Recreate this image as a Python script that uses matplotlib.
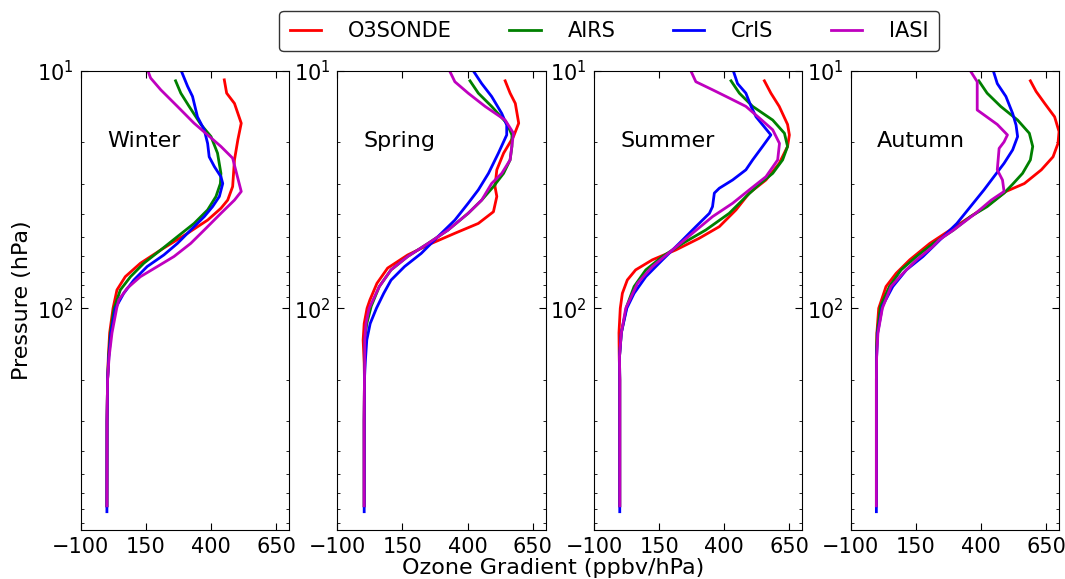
import matplotlib
matplotlib.use('Agg')
import matplotlib.pyplot as plt
import numpy as np

# perfiles de gradiente de ozono por estacion
seasons = ['Winter', 'Spring', 'Summer', 'Autumn']
sources = ['O3SONDE', 'AIRS', 'CrIS', 'IASI']
colors = ['r', 'g', 'b', 'm']

# ---- Winter
win_o3_p = [10.9, 12.4, 13.7, 16.6, 19.5, 23.7, 30.7, 35, 37.9, 42.5, 48.3, 56.8, 64.6, 73.6, 83.7, 100, 127, 160, 200, 300, 680]
win_o3_v = [451, 460, 490, 516, 503, 490, 483, 464, 438, 387, 310, 207, 129, 71, 39, 24, 11, 6, 3, 1, 0.5]
win_airs_p = [11.0, 12.4, 14.1, 16.8, 18.9, 22.2, 27.0, 29.8, 33.8, 38.5, 43.9, 49.9, 56.8, 64.6, 73.6, 83.7, 100, 127, 160, 200, 300, 680]
win_airs_v = [264, 284, 316, 361, 400, 425, 438, 436, 419, 387, 335, 271, 207, 142, 91, 52, 28, 14, 7, 3, 1, 0.5]
win_cris_p = [10, 11.6, 12.8, 15.6, 17.7, 20.2, 23.0, 25.3, 27.9, 29.8, 33.8, 37.3, 41.1, 45.3, 53.3, 59.6, 66.7, 76.0, 86.5, 100, 127, 160, 200, 300, 720]
win_cris_v = [286, 310, 329, 348, 374, 387, 393, 413, 438, 445, 432, 406, 374, 335, 271, 219, 155, 104, 65, 33, 16, 8, 3, 1, 0.5]
win_iasi_p = [10, 10.7, 12.0, 14.1, 16.6, 18.6, 20.8, 23.3, 32.2, 35, 39.8, 46.8, 53.3, 60.5, 66.7, 73.6, 82.4, 92.2, 100, 127, 160, 200, 300, 680]
win_iasi_v = [158, 168, 207, 271, 335, 387, 438, 483, 516, 490, 438, 374, 322, 258, 194, 129, 78, 46, 38, 20, 9, 3, 1, 0.5]

# ---- Spring
spr_o3_p = [11.0, 12.4, 13.7, 16.6, 18.9, 22.2, 26.1, 30.7, 33.8, 39.2, 43.9, 48.3, 53.3, 59.6, 67.7, 78.5, 92.2, 100, 116, 136, 170, 200, 300, 680]
spr_o3_v = [544, 563, 583, 596, 576, 538, 512, 505, 512, 499, 441, 351, 261, 170, 93, 52, 25, 14, 3, -1, 3, 4, 3, 3]
spr_airs_p = [11.0, 12.4, 14.1, 16.6, 18.6, 20.8, 23.7, 27.0, 30.7, 35.0, 39.8, 46.8, 53.3, 60.5, 68.9, 81.0, 98, 116, 136, 170, 200, 300, 680]
spr_airs_v = [409, 441, 492, 550, 570, 570, 563, 538, 499, 454, 402, 325, 248, 170, 106, 61, 30, 13, 5, 5, 4, 3, 3]
spr_cris_p = [10, 11.3, 12.8, 15.1, 16.9, 18.6, 22.2, 27.0, 31.7, 36.1, 42.5, 49.9, 58.7, 66.7, 76.1, 86.5, 100, 116, 136, 170, 200, 300, 720]
spr_cris_v = [422, 454, 492, 531, 550, 550, 518, 480, 441, 402, 351, 286, 222, 158, 106, 78, 50, 26, 13, 7, 4, 3, 3]
spr_iasi_p = [10, 11.1, 12.4, 14.1, 16.1, 18.3, 23.7, 27.0, 29.8, 35, 39.8, 46.8, 53.3, 60.5, 68.9, 81, 100, 116, 136, 170, 200, 300, 680]
spr_iasi_v = [331, 351, 402, 467, 544, 576, 563, 531, 492, 454, 402, 325, 248, 170, 106, 61, 22, 10, 5, 5, 4, 3, 3]

# ---- Summer
sum_o3_p = [11.0, 12.4, 14.1, 16.8, 18.6, 20.8, 24.5, 28.8, 32.7, 38.5, 45.3, 50.7, 56.8, 62.5, 68.9, 76, 86.5, 100, 127, 160, 200, 300, 680]
sum_o3_v = [554, 579, 611, 643, 650, 643, 611, 560, 496, 445, 381, 304, 214, 124, 60, 28, 9, 1, -4, -3, -1, -1, -1]
sum_airs_p = [11.0, 12.4, 14.1, 16.1, 18.3, 20.8, 23.7, 27.0, 30, 33.8, 39.8, 46.8, 53.3, 60.5, 68.9, 81, 98, 127, 160, 200, 300, 680]
sum_airs_v = [426, 458, 509, 586, 631, 643, 624, 586, 535, 484, 419, 329, 240, 163, 99, 54, 26, 5, -2, -1, -1, -1]
sum_cris_p = [10, 11.3, 12.4, 14.1, 15.6, 18.6, 20.8, 23.7, 26.1, 28.8, 31.2, 32.7, 37.3, 39.8, 45.3, 53.3, 62.5, 73.6, 86.5, 100, 127, 160, 200, 300, 720]
sum_cris_v = [435, 451, 483, 503, 522, 579, 547, 509, 483, 432, 381, 362, 355, 343, 291, 227, 163, 99, 54, 26, 5, -2, -1, -1, -1]
sum_iasi_p = [10, 11.1, 12.0, 13.0, 14.1, 16.0, 17.7, 20.2, 23.7, 27.9, 31.7, 36.1, 41.1, 48.3, 56.8, 66.7, 78.5, 100, 127, 160, 200, 300, 680]
sum_iasi_v = [272, 291, 355, 419, 483, 541, 586, 612, 605, 560, 496, 432, 355, 278, 201, 124, 67, 22, 5, -2, -1, -1, -1]

# ---- Autumn
aut_o3_p = [11.0, 12.2, 13.7, 15.6, 18.0, 20.2, 23.0, 26.1, 29.8, 32.2, 36.1, 41.1, 46.8, 53.3, 62.5, 71.2, 81, 100, 127, 160, 200, 300, 680]
aut_o3_v = [590, 612, 645, 683, 700, 696, 677, 632, 567, 496, 437, 360, 282, 204, 127, 75, 36, 8, 1, -1, -1, -1, -1]
aut_airs_p = [11.0, 12.4, 14.1, 16.1, 18.3, 20.8, 23.7, 27.0, 30, 32.7, 37.3, 41.1, 46.8, 53.3, 60.5, 68.9, 81, 98, 127, 160, 200, 300, 680]
aut_airs_v = [392, 424, 476, 541, 586, 599, 590, 560, 522, 489, 424, 360, 295, 217, 153, 94, 49, 15, 2, -1, -1, -1, -1]
aut_cris_p = [10, 11.3, 12.8, 15.1, 16.9, 18.9, 21.5, 24.5, 27.9, 31.7, 37.3, 43.9, 51.5, 60.5, 68.9, 81, 98, 127, 160, 200, 300, 720]
aut_cris_v = [448, 463, 496, 522, 535, 541, 522, 489, 450, 412, 360, 308, 243, 178, 114, 62, 22, 4, 0, -1, -1, -1]
aut_iasi_p = [10, 11.1, 14.6, 16.8, 18.6, 19.9, 21.2, 26.1, 28.8, 32.2, 35, 39.8, 46.8, 51.5, 55, 62.5, 71.2, 81, 100, 127, 160, 200, 300, 680]
aut_iasi_v = [360, 386, 386, 463, 502, 489, 470, 463, 483, 489, 440, 380, 295, 240, 215, 153, 101, 55, 22, 5, 0, -1, -1, -1]

perfiles = [
    [(win_o3_p, win_o3_v), (win_airs_p, win_airs_v), (win_cris_p, win_cris_v), (win_iasi_p, win_iasi_v)],
    [(spr_o3_p, spr_o3_v), (spr_airs_p, spr_airs_v), (spr_cris_p, spr_cris_v), (spr_iasi_p, spr_iasi_v)],
    [(sum_o3_p, sum_o3_v), (sum_airs_p, sum_airs_v), (sum_cris_p, sum_cris_v), (sum_iasi_p, sum_iasi_v)],
    [(aut_o3_p, aut_o3_v), (aut_airs_p, aut_airs_v), (aut_cris_p, aut_cris_v), (aut_iasi_p, aut_iasi_v)],
]

xticks = [-100, 150, 400, 650]

fig, axes = plt.subplots(1, 4, figsize=(10.65, 5.79), dpi=100)
fig.subplots_adjust(left=0.0758, right=0.9944, bottom=0.0846, top=0.8774, wspace=0.231)

for ax, season, perfil in zip(axes, seasons, perfiles):
    for (p, v), name, c in zip(perfil, sources, colors):
        ax.plot(v, p, color=c, lw=2, label=name)
    ax.set_yscale('log')
    ax.set_ylim(860, 10)
    ax.set_xlim(-100, 700)
    ax.set_xticks(xticks)
    ax.tick_params(which='both', direction='in', top=True, right=True, labelsize=15)
    ax.tick_params(which='major', length=5, pad=5)
    ax.tick_params(which='minor', length=2.5)
    ax.text(2, 21, season, fontsize=16)

axes[0].set_ylabel('Pressure (hPa)', fontsize=16)
fig.text(0.519, 0.001, 'Ozone Gradient (ppbv/hPa)', fontsize=16, ha='center', va='bottom')

h, l = axes[0].get_legend_handles_labels()
leg = fig.legend(h, l, loc='center', bbox_to_anchor=(0.572, 0.9465), ncol=4, fontsize=15,
                 handlelength=1.5, handletextpad=1.3, columnspacing=2.75, fancybox=True,
                 borderpad=0.5)
leg.get_frame().set_edgecolor('black')
leg.get_frame().set_linewidth(1.0)

plt.savefig('out.png', dpi=100)
